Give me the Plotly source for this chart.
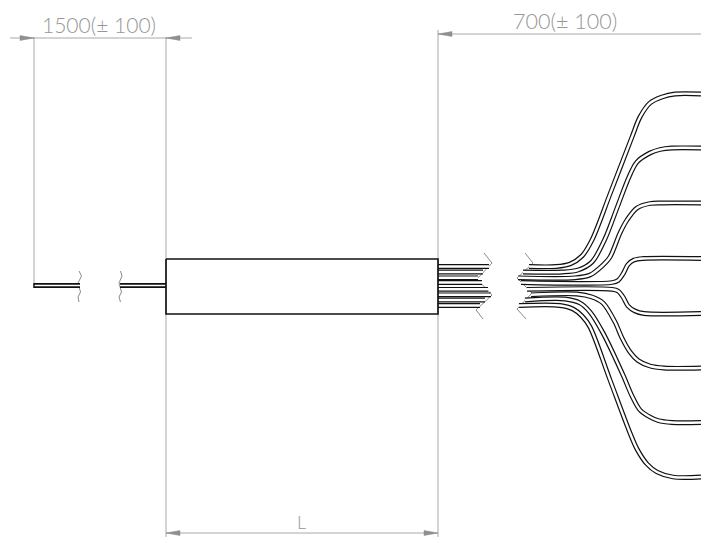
import plotly.graph_objects as go

WIDTH, HEIGHT = 701, 540
GREY = "#a8a8a8"
ARROW = "#8f8f8f"
BLACK = "#111111"

# fibre paths: left stub of the bundle (up to the break) and the fan-out after it
stub_y = [266.5, 272, 277.8, 282.5, 289.3, 294.8, 300, 305.5]
stub_end_x = [489, 483, 478, 482, 488, 491, 485, 480]
fan_x = [
    [529, 556, 570, 582, 592, 610, 632, 640, 650, 662, 675, 701],
    [523, 562, 578, 592, 604.5, 617, 629, 637, 650, 660, 672, 701],
    [518, 575, 590, 602, 610, 620, 627, 637, 650, 662, 701],
    [521, 612, 618, 623, 628, 634, 643, 701],
    [527, 612, 618, 623, 628, 635, 644, 701],
    [531, 577, 592, 603, 615, 622, 630, 638, 650, 664, 701],
    [525, 565, 580, 590, 603, 623, 632, 640, 650, 658, 672, 701],
    [519, 560, 573, 582, 590, 610, 630, 637, 647, 657, 673, 701],
]
fan_y = [
    [266.5, 266.5, 264, 256, 240, 194, 137, 117, 103, 97, 94, 94],
    [272, 272, 270, 262, 240, 208, 177, 162, 153, 149.5, 148, 148],
    [277.8, 277.8, 275, 266, 257, 233, 220, 208, 203.5, 203, 203],
    [282.5, 282.5, 280.5, 274, 264.5, 260, 258.5, 258.5],
    [289.3, 289.3, 291, 297, 306, 311, 313.5, 313.5],
    [294.8, 294, 297, 303, 322, 338, 352, 360.5, 366, 368, 368],
    [300, 299, 303, 312, 333, 375, 396, 410, 417, 420.5, 422.5, 422.5],
    [305.5, 305.5, 309, 316, 327, 380, 433, 449, 464, 472, 477, 477],
]

# main body and single input fibre
body_x = [166, 438, 438, 166, 166]
body_y = [259, 259, 314, 314, 259]
input_x = [34, 80, None, 120, 166]
input_y = [285.5, 285.5, None, 285.5, 285.5]
input_cap_x = [34, 34]
input_cap_y = [283, 288]

# break marks
break_lines = [
    ([484, 492, 477, 492, 476, 483], [253, 263, 279, 295, 310, 319]),
    ([525, 533, 517, 532, 517, 526], [253, 263, 278, 293, 309, 319]),
    ([79, 81.5, 78, 80.5, 78, 79], [271, 276, 283, 292, 297, 302]),
    ([120.5, 122, 119, 121.5, 119, 120.5], [271, 276, 283, 292, 297, 302]),
]

# dimension and extension lines
dim_lines = [
    ([10, 192], [38, 38]),
    ([34, 34], [37, 283]),
    ([166, 166], [37, 259]),
    ([166, 166], [314, 537]),
    ([438, 438], [30, 259]),
    ([438, 438], [314, 537]),
    ([438, 701], [34, 34]),
    ([166, 438], [533, 533]),
]
arrow_tips_x = [34, 166, 438, 166, 438]
arrow_tips_y = [38, 38, 34, 533, 533]
arrow_tail_x = [20, 180, 452, 180, 424]

# dimension labels
label_text = ["1500(± 100)", "700(± 100)", "L"]
label_x = [99, 565, 301]
label_y = [24, 21, 522]
label_size = [21, 21.5, 18]

fig = go.Figure()


def add_line(xs, ys, color, width, shape="linear"):
    fig.add_trace(go.Scatter(x=xs, y=ys, mode="lines", hoverinfo="skip", showlegend=False,
                             line=dict(color=color, width=width, shape=shape, smoothing=0.9)))


for xs, ys in dim_lines:
    add_line(xs, ys, GREY, 1)

for tip_x, tip_y, tail_x in zip(arrow_tips_x, arrow_tips_y, arrow_tail_x):
    fig.add_trace(go.Scatter(x=[tip_x, tail_x, tail_x, tip_x], y=[tip_y, tip_y - 2.5, tip_y + 2.5, tip_y],
                             mode="lines", fill="toself", fillcolor=ARROW, hoverinfo="skip",
                             showlegend=False, line=dict(color=ARROW, width=0.5)))

for xs, ys in break_lines:
    add_line(xs, ys, "#8a8a8a", 1)

# outer wall of every fibre first, then the light core on top
for layer_color, layer_width, input_width in ((BLACK, 4.8, 5), ("#ffffff", 2.4, 1.7)):
    for i in range(len(stub_y)):
        add_line([438, stub_end_x[i]], [stub_y[i], stub_y[i]], layer_color, layer_width)
        add_line(fan_x[i], fan_y[i], layer_color, layer_width, "spline")
    add_line(input_x, input_y, layer_color, input_width)

add_line(input_cap_x, input_cap_y, BLACK, 1.5)
add_line(body_x, body_y, BLACK, 1.7)

for text, x, y, size in zip(label_text, label_x, label_y, label_size):
    fig.add_annotation(x=x, y=y, text=text, showarrow=False,
                       font=dict(family="Lato", size=size, weight=300, color="#969696"))

fig.update_layout(
    width=WIDTH, height=HEIGHT, margin=dict(l=0, r=0, t=0, b=0),
    paper_bgcolor="white", plot_bgcolor="white", showlegend=False,
    xaxis=dict(range=[0, WIDTH], visible=False, fixedrange=True),
    yaxis=dict(range=[HEIGHT, 0], visible=False, fixedrange=True),
)
fig.write_html("out.html", post_script="document.body.style.margin='0';", config={"displayModeBar": False})
